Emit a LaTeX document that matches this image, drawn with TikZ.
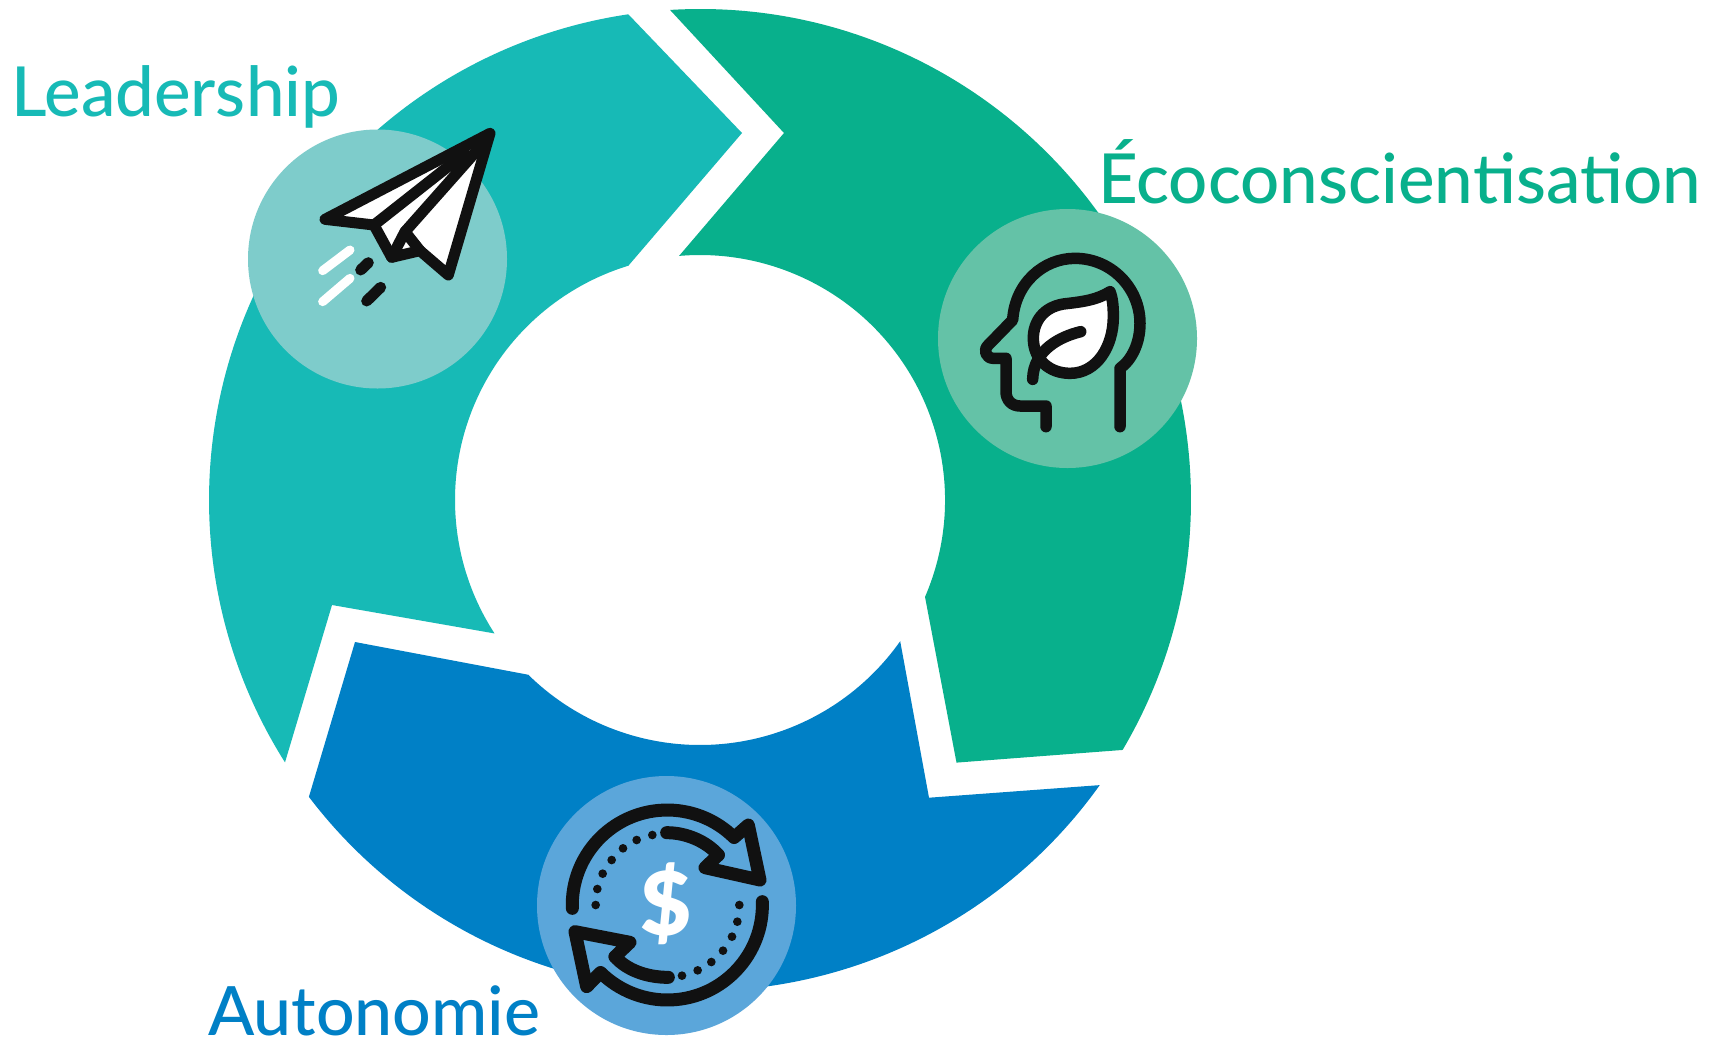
\documentclass[tikz,border=0pt]{standalone}
\usepackage{fontspec}
\setmainfont{Lato}
\newfontfamily\lblfont{Lato Medium}
\newfontfamily\dollarfont{Lato Black}
\definecolor{teal1}{HTML}{17BAB6}
\definecolor{green1}{HTML}{08B08C}
\definecolor{blue1}{HTML}{0080C6}
\definecolor{tealc}{HTML}{7ECCCB}
\definecolor{greenc}{HTML}{64C2A7}
\definecolor{bluec}{HTML}{5BA6DA}
\definecolor{ink}{HTML}{111111}
\tikzset{
  iconline/.style={draw=ink,line width=11pt,line cap=round,line join=round},
  headline/.style={iconline,line width=11.5pt},
  cycleline/.style={iconline,line width=13pt},
  lbl/.style={anchor=base west,inner sep=0pt,font=\lblfont\fontsize{69}{80}\selectfont},
  badge/.style={circle,minimum size=259pt,inner sep=0pt}
}
\begin{document}
\begin{tikzpicture}[x=1pt,y=1pt,yscale=-1]
\useasboundingbox[fill=white] (0,0) rectangle (1718,1037);
\coordinate (c) at (700,500);
\fill[teal1] ([shift={(261.6:491pt)}]c) arc[start angle=261.6,end angle=147.7,radius=491pt]
  -- (332,605) -- ([shift={(147:245pt)}]c) arc[start angle=147,end angle=253,radius=245pt]
  -- (742,133) -- cycle;
\fill[green1] ([shift={(-93.5:491pt)}]c) arc[start angle=-93.5,end angle=30.6,radius=491pt]
  -- (956.5,762.6) -- ([shift={(23.3:245pt)}]c) arc[start angle=23.3,end angle=-94.9,radius=245pt]
  -- (784,133) -- cycle;
\fill[blue1] ([shift={(35.5:491pt)}]c) arc[start angle=35.5,end angle=142.8,radius=491pt]
  -- (355,642) -- ([shift={(134.5:245pt)}]c) arc[start angle=134.5,end angle=35.2,radius=245pt]
  -- (929,797.7) -- cycle;
\node[badge,fill=tealc] (b1) at (377.5,259) {};
\node[badge,fill=greenc] (b2) at (1067.5,338.5) {};
\node[badge,fill=bluec] (b3) at (666.5,905.5) {};
% plane
\begin{scope}[shift={(220,100)},scale=1/3]
\filldraw[iconline,fill=white] (810,100) -- (315,358) -- (462,375) -- (515,472) -- (600,452) -- (685,525) -- cycle;
\draw[iconline] (462,375) -- (735,160);
\draw[iconline] (515,472) -- (555,395) -- (790,130);
\draw[iconline] (555,395) -- (600,452);
\draw[draw=white,line width=9pt,line cap=round] (308,512) -- (390,450) (308,605) -- (390,535);
\draw[iconline] (422,510) -- (445,488) (440,603) -- (482,562);
\end{scope}
% head
\begin{scope}[shift={(930,200)},scale=1/3]
\draw[headline] (348,680) -- (348,618) -- (270,618) .. controls (245,618) and (228,600) .. (228,575)
  -- (228,475) -- (190,475) .. controls (168,475) and (158,450) .. (175,435) -- (248,360)
  .. controls (255,250) and (340,175) .. (435,175) .. controls (545,175) and (630,265) .. (630,370)
  .. controls (630,430) and (605,480) .. (570,505) -- (570,680);
\filldraw[headline,fill=white] (540,275) .. controls (500,300) and (460,305) .. (400,312)
  .. controls (340,322) and (310,365) .. (310,415) .. controls (310,480) and (360,520) .. (420,520)
  .. controls (500,520) and (550,440) .. (550,350) .. controls (550,320) and (548,295) .. (540,275) -- cycle;
\draw[headline] (452,395) .. controls (390,410) and (310,450) .. (308,538);
\end{scope}
% cycle
\begin{scope}[shift={(530,770)},scale=1/3]
\node[text=white,font=\dollarfont\fontsize{88}{88}\selectfont] (dollar) at (408,400) {\$};
\draw[cycleline] (127,415) arc[start angle=178,end angle=314.7,radius=285pt] -- (655,165) -- (690,330) -- (525,293) -- (565,255);
\draw[cycleline] (565,255) .. controls (530,215) and (470,188) .. (410,188);
\draw[cycleline] (697,395) arc[start angle=-2,end angle=134.7,radius=285pt] -- (170,650) -- (135,485) -- (300,517) -- (255,560);
\draw[cycleline] (255,560) .. controls (290,600) and (350,622) .. (415,622);
\foreach \px/\py in {197/405,202/357,218/311,245/270,279/235,320/210,367/195,628/405,622/455,606/500,579/542,544/576,503/601,456/617}
  \fill[ink] (\px,\py) circle[radius=13pt];
\end{scope}
\node[lbl,text=teal1] (t1) at (11,116) {Leadership};
\node[lbl,text=green1] (t2) at (1098,203.5) {Écoconscientisation};
\node[lbl,text=blue1,font=\lblfont\fontsize{68}{80}\selectfont] (t3) at (208,1035) {Autonomie};
\end{tikzpicture}
\end{document}
